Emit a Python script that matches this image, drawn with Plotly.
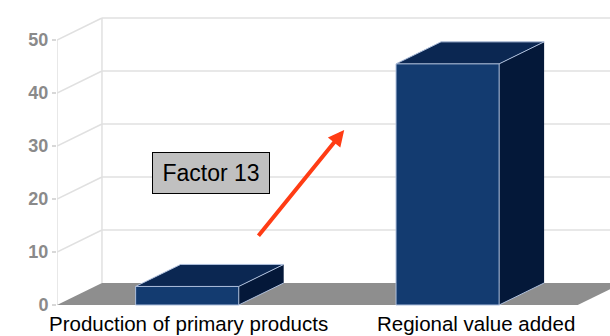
import plotly.graph_objects as go

# Data
categories = ["Production of primary products", "Regional value added"]
values = [3.5, 45.5]
tick_values = [0, 10, 20, 30, 40, 50]
callout_text = "Factor 13"

# 3D look: depth offsets (x in category units, y in value units)
DX = 0.1727
DY = 4.15
HALF_W = 0.198
X_LEFT, X_RIGHT = -0.5, 1.5
Y_TOP = 50

FRONT = "#133b70"
TOP = "#0b2752"
SIDE = "#041839"
EDGE = "#aebfdc"
GRID = "#e0e0e0"
FLOOR = "#8e8e8e"

fig = go.Figure()


def poly(xs, ys, fill, line_color=None, width=0):
    fig.add_trace(go.Scatter(
        x=xs + [xs[0]], y=ys + [ys[0]], mode="lines", fill="toself",
        fillcolor=fill, line=dict(color=line_color or fill, width=width),
        hoverinfo="skip", showlegend=False))


def seg(xs, ys, color=GRID, width=1.5):
    fig.add_trace(go.Scatter(
        x=xs, y=ys, mode="lines", line=dict(color=color, width=width),
        hoverinfo="skip", showlegend=False))


# back wall gridlines and left wall diagonals
for t in tick_values[1:]:
    seg([X_LEFT + DX, X_RIGHT + DX + 0.3], [t + DY, t + DY])
    seg([X_LEFT, X_LEFT + DX], [t, t + DY])
# wall edges / front axis
seg([X_LEFT + DX, X_LEFT + DX], [DY, Y_TOP + DY])
seg([X_LEFT, X_LEFT], [0, Y_TOP])

# floor
poly([X_LEFT, X_RIGHT, X_RIGHT + DX, X_LEFT + DX], [0, 0, DY, DY], FLOOR)

# bars
for i, v in enumerate(values):
    x0, x1 = i - HALF_W, i + HALF_W
    # right side
    poly([x1, x1 + DX, x1 + DX, x1], [0, DY, v + DY, v], SIDE)
    # top
    poly([x0, x1, x1 + DX, x0 + DX], [v, v, v + DY, v + DY], TOP)
    # front
    poly([x0, x1, x1, x0], [0, 0, v, v], FRONT)
    # highlighted edges
    seg([x0, x1, x1, x0, x0], [0, 0, v, v, 0], EDGE, 1)
    seg([x0, x0 + DX, x1 + DX, x1], [v, v + DY, v + DY, v], EDGE, 1)
    seg([x1, x1 + DX], [0, DY], EDGE, 1)

# category labels
label_shift = [1, 28]
for i, c in enumerate(categories):
    fig.add_annotation(x=i, y=-3.4, text=c, showarrow=False, xshift=label_shift[i],
                       font=dict(family="Liberation Sans, Arial", size=20.5, color="#000000"),
                       xanchor="center", yanchor="middle")

# callout box and arrow
fig.add_annotation(x=0.09, y=24.9, text=callout_text, showarrow=False,
                   bgcolor="#c0c0c0", bordercolor="#000000", borderwidth=1,
                   borderpad=0, width=116, height=40,
                   font=dict(family="Liberation Sans, Arial", size=23, color="#000000"))
arrow_from = (0.269, 12.8)
arrow_to = (0.603, 33.0)
fig.add_annotation(x=arrow_to[0], y=arrow_to[1], ax=arrow_from[0], ay=arrow_from[1],
                   axref="x", ayref="y", xref="x", yref="y", text="",
                   showarrow=True, arrowhead=2, arrowsize=0.8, arrowwidth=4,
                   arrowcolor="#ff3c14", standoff=0)

fig.update_layout(
    width=610, height=336,
    margin=dict(l=57, r=0, t=0, b=0),
    paper_bgcolor="#ffffff", plot_bgcolor="#ffffff",
    xaxis=dict(range=[X_LEFT, 1.6238], visible=False, fixedrange=True),
    yaxis=dict(range=[-5.85, 57.55], tickvals=tick_values, showgrid=False,
               zeroline=False, showline=False, ticks="outside", ticklen=4,
               tickcolor="#d8d8d8", tickwidth=1.5,
               tickfont=dict(family="Liberation Sans, Arial", size=18,
                             color="#8a8a8a", weight="bold"),
               fixedrange=True),
    hovermode=False,
)

fig.write_html("out.html")
